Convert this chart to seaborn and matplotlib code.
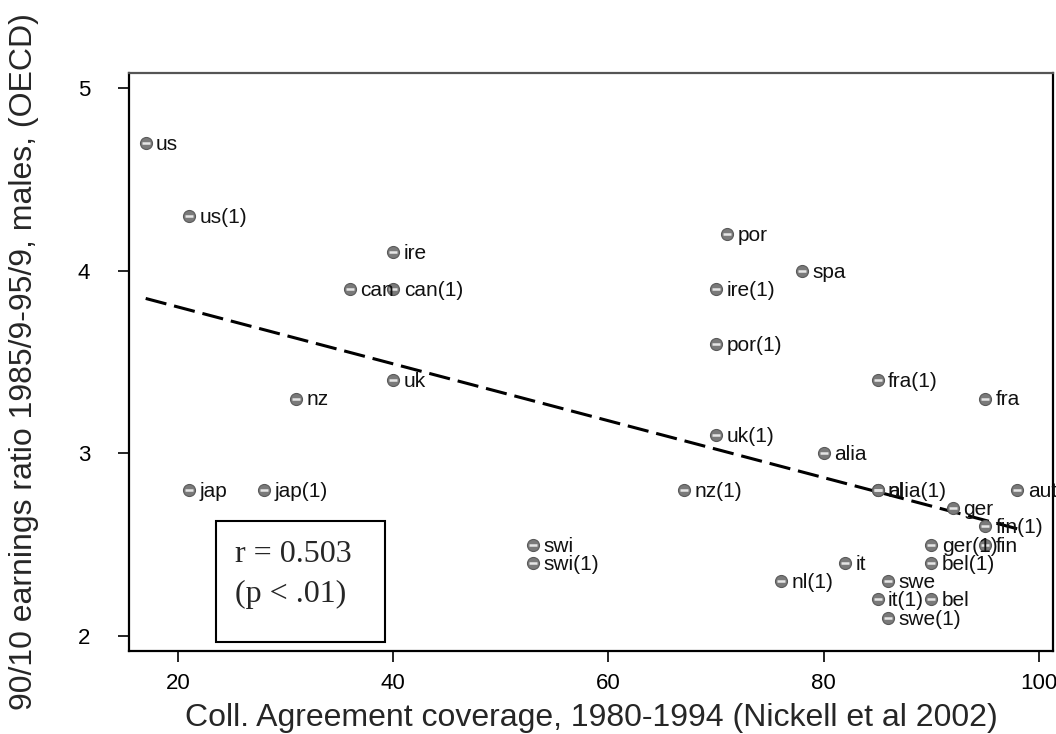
import numpy as np
import pandas as pd
import matplotlib
matplotlib.use("Agg")
import matplotlib.pyplot as plt
from matplotlib.patches import Rectangle
import seaborn as sns

countries = ["us", "us(1)", "ire", "can", "can(1)", "uk", "nz", "jap", "jap(1)",
             "swi", "swi(1)", "por", "spa", "ire(1)", "por(1)", "fra(1)", "fra",
             "uk(1)", "alia", "nz(1)", "nl", "alia(1)", "aut", "ger", "fin(1)",
             "fin", "ger(1)", "bel(1)", "it", "nl(1)", "swe", "it(1)", "bel", "swe(1)"]
coverage = [17, 21, 40, 36, 40, 40, 31, 21, 28,
            53, 53, 71, 78, 70, 70, 85, 95,
            70, 80, 67, 85, 85, 98, 92, 95,
            95, 90, 90, 82, 76, 86, 85, 90, 86]
ratio = [4.7, 4.3, 4.1, 3.9, 3.9, 3.4, 3.3, 2.8, 2.8,
         2.5, 2.4, 4.2, 4.0, 3.9, 3.6, 3.4, 3.3,
         3.1, 3.0, 2.8, 2.8, 2.8, 2.8, 2.7, 2.6,
         2.5, 2.5, 2.4, 2.4, 2.3, 2.3, 2.2, 2.2, 2.1]
x_ticks = [20, 40, 60, 80, 100]
y_ticks = [2, 3, 4, 5]
x_label = "Coll. Agreement coverage, 1980-1994 (Nickell et al 2002)"
y_label = "90/10 earnings ratio 1985/9-95/9, males, (OECD)"
box_lines = ["r = 0.503", "(p < .01)"]

df = pd.DataFrame({"country": countries, "coverage": coverage, "ratio": ratio})

sns.set_style("ticks")
plt.rcParams["font.family"] = ["Liberation Sans", "DejaVu Sans"]

fig = plt.figure(figsize=(10.56, 7.34), dpi=100)
ax = fig.add_axes([129 / 1056, 83 / 734, 924 / 1056, 578 / 734])

sns.regplot(data=df, x="coverage", y="ratio", scatter=False, ci=None, ax=ax,
            line_kws=dict(color="black", lw=2.2, linestyle=(0, (7, 2.6))))
sns.scatterplot(data=df, x="coverage", y="ratio", ax=ax, s=75,
                color="#7a7a7a", edgecolor="#5a5a5a", linewidth=0.8, zorder=3)
sns.scatterplot(data=df, x="coverage", y="ratio", ax=ax, s=30, marker="_",
                color="#e6e6e6", linewidth=1.8, zorder=4)

for c, xv, yv in zip(countries, coverage, ratio):
    ax.annotate(c, (xv, yv), xytext=(7.5, -1), textcoords="offset points",
                ha="left", va="center", fontsize=15, color="#111111", zorder=5)

ax.set_xlim(15.45, 101.3)
ax.set_ylim(1.918, 5.082)
ax.set_xticks(x_ticks)
ax.set_yticks(y_ticks)
ax.tick_params(axis="both", direction="out", length=8, width=1.2,
               labelsize=16, colors="black", pad=8)
ax.tick_params(axis="y", pad=20)
ax.set_xlabel(x_label, fontsize=23, labelpad=6)
ax.set_ylabel(y_label, fontsize=23, labelpad=28)

for side in ["left", "bottom", "right"]:
    ax.spines[side].set_color("black")
    ax.spines[side].set_linewidth(1.6)
ax.spines["top"].set_color("#555555")
ax.spines["top"].set_linewidth(1.6)

ax.add_patch(Rectangle((0.094, 0.0156), 0.183, 0.2094, transform=ax.transAxes,
                       fill=False, edgecolor="black", lw=1.5, zorder=6))
ax.text(0.115, 0.167, box_lines[0], transform=ax.transAxes, fontsize=23,
        family=["Liberation Serif", "DejaVu Serif"], va="center", ha="left")
ax.text(0.115, 0.097, box_lines[1], transform=ax.transAxes, fontsize=23,
        family=["Liberation Serif", "DejaVu Serif"], va="center", ha="left")

fig.savefig("out.png", dpi=100)
